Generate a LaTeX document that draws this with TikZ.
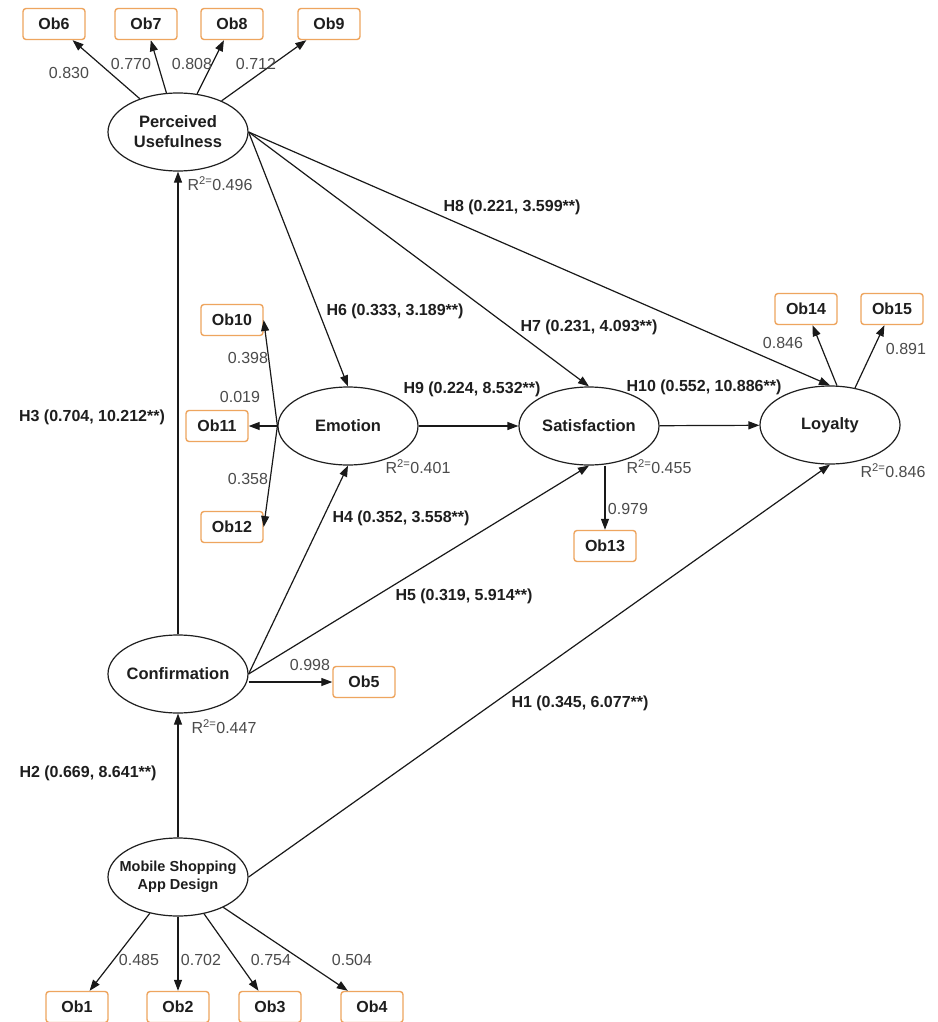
\documentclass[tikz,border=0pt]{standalone}
\usepackage{fontspec}
\setmainfont{Liberation Sans}
\usetikzlibrary{shapes.geometric,arrows.meta}
\definecolor{obline}{RGB}{238,165,95}
\definecolor{txt}{RGB}{30,30,30}
\definecolor{num}{RGB}{75,75,75}
\begin{document}
\begin{tikzpicture}[x=1pt,y=-1pt,
  construct/.style={ellipse,draw=black!88,line width=1.2pt,minimum width=140pt,minimum height=78pt,inner sep=0pt},
  ctext/.style={font=\bfseries\fontsize{16.5}{20}\selectfont,text=txt,align=center,inner sep=0pt},
  stext/.style={font=\bfseries\fontsize{14.5}{18}\selectfont,text=txt,align=center,inner sep=0pt},
  indicator/.style={draw=obline,line width=1.4pt,rounded corners=3pt,minimum width=62pt,minimum height=31pt,inner sep=0pt,font=\bfseries\fontsize{16}{19}\selectfont,text=txt},
  link/.style={draw=black!90,line width=1.2pt,-{Triangle[length=11pt,width=8pt]}},
  hyp/.style={font=\bfseries\fontsize{16}{19}\selectfont,text=txt,inner sep=1pt},
  load/.style={font=\fontsize{16}{19}\selectfont,text=num,inner sep=1pt},
]
\fill[white] (0,0) rectangle (937,1022);
\useasboundingbox (0,0) rectangle (937,1022);

% latent constructs
\node[construct,label={[ctext]center:Perceived\\Usefulness}] (pu) at (178,132) {};
\node[construct,label={[ctext]center:Emotion}] (emo) at (348,426) {};
\node[construct,label={[ctext]center:Satisfaction}] (sat) at (589,426) {};
\node[construct,label={[ctext]center:Loyalty}] (loy) at (830,425) {};
\node[construct,label={[ctext]center:Confirmation}] (conf) at (178,674) {};
\node[construct,label={[stext]center:Mobile Shopping\\App Design}] (msad) at (178,877) {};

% observed indicators
\node[indicator] (ob6) at (54,24) {Ob6};
\node[indicator] (ob7) at (146,24) {Ob7};
\node[indicator] (ob8) at (232,24) {Ob8};
\node[indicator] (ob9) at (329,24) {Ob9};
\node[indicator] (ob10) at (232,320) {Ob10};
\node[indicator] (ob11) at (217,426) {Ob11};
\node[indicator] (ob12) at (232,527) {Ob12};
\node[indicator] (ob13) at (605,546) {Ob13};
\node[indicator] (ob14) at (806,309) {Ob14};
\node[indicator] (ob15) at (892,309) {Ob15};
\node[indicator] (ob5) at (364,682) {Ob5};
\node[indicator] (ob1) at (77,1007) {Ob1};
\node[indicator] (ob2) at (178,1007) {Ob2};
\node[indicator] (ob3) at (270,1007) {Ob3};
\node[indicator] (ob4) at (372,1007) {Ob4};

% measurement paths
\draw[link] (pu) -- (ob6);
\draw[link] (pu) -- (ob7);
\draw[link] (pu) -- (ob8);
\draw[link] (pu) -- (ob9);
\draw[link] (emo.west) -- (ob10.east);
\draw[link] (emo.west) -- (ob11.east);
\draw[link] (emo.west) -- (ob12.east);
\draw[link] (sat.south -| ob13.north) -- (ob13.north);
\draw[link] (loy.80) -- (ob14);
\draw[link] (loy.56) -- (ob15);
\draw[link] (conf.east |- ob5.west) -- (ob5.west);
\draw[link] (msad) -- (ob1);
\draw[link] (msad) -- (ob2);
\draw[link] (msad) -- (ob3);
\draw[link] (msad) -- (ob4);

% structural paths
\draw[link] (msad) -- (conf);
\draw[link] (conf) -- (pu);
\draw[link] (msad.east) -- (loy.south);
\draw[link] (conf.east) -- (emo.south);
\draw[link] (conf.east) -- (sat.south);
\draw[link] (pu.east) -- (emo.north);
\draw[link] (pu.east) -- (sat.north);
\draw[link] (pu.east) -- (loy.north);
\draw[link] (emo) -- (sat);
\draw[link] (sat) -- (loy);

% hypothesis labels
\node[hyp] (lh1) at (580,703) {H1 (0.345, 6.077**)};
\node[hyp] (lh2) at (88,773) {H2 (0.669, 8.641**)};
\node[hyp] (lh3) at (92,417) {H3 (0.704, 10.212**)};
\node[hyp] (lh4) at (401,518) {H4 (0.352, 3.558**)};
\node[hyp] (lh5) at (464,596) {H5 (0.319, 5.914**)};
\node[hyp] (lh6) at (395,311) {H6 (0.333, 3.189**)};
\node[hyp] (lh7) at (589,327) {H7 (0.231, 4.093**)};
\node[hyp] (lh8) at (512,207) {H8 (0.221, 3.599**)};
\node[hyp] (lh9) at (472,389) {H9 (0.224, 8.532**)};
\node[hyp] (lh10) at (704,387) {H10 (0.552, 10.886**)};

% loadings
\node[load] (l6) at (69,73) {0.830};
\node[load] (l7) at (131,64) {0.770};
\node[load] (l8) at (192,64) {0.808};
\node[load] (l9) at (256,64) {0.712};
\node[load] (l10) at (248,358) {0.398};
\node[load] (l11) at (240,397) {0.019};
\node[load] (l12) at (248,479) {0.358};
\node[load] (l13) at (628,509) {0.979};
\node[load] (l14) at (783,343) {0.846};
\node[load] (l15) at (906,349) {0.891};
\node[load] (l5) at (310,665) {0.998};
\node[load] (l1) at (139,960) {0.485};
\node[load] (l2) at (201,960) {0.702};
\node[load] (l3) at (271,960) {0.754};
\node[load] (l4) at (352,960) {0.504};

% explained variance
\node[load] (rpu) at (220,184) {R\textsuperscript{2=}0.496};
\node[load] (remo) at (418,467) {R\textsuperscript{2=}0.401};
\node[load] (rsat) at (659,467) {R\textsuperscript{2=}0.455};
\node[load] (rloy) at (893,471) {R\textsuperscript{2=}0.846};
\node[load] (rconf) at (224,727) {R\textsuperscript{2=}0.447};
\end{tikzpicture}
\end{document}
